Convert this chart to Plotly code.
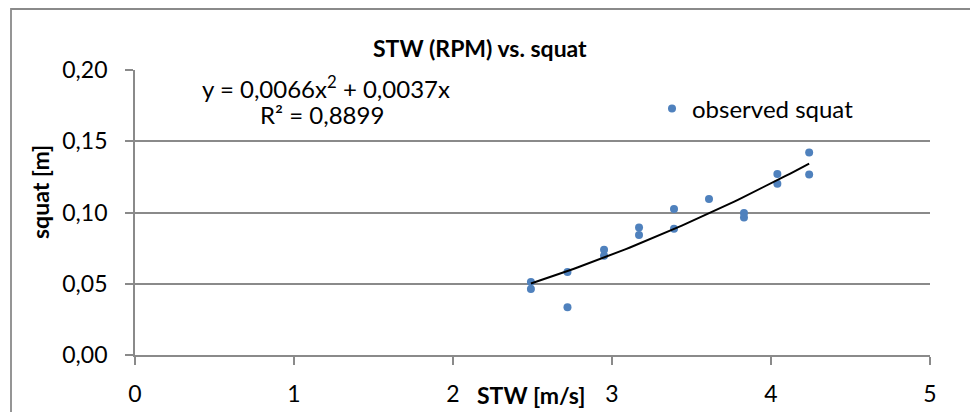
import numpy as np
import plotly.graph_objects as go

stw = [2.49, 2.49, 2.72, 2.72, 2.95, 2.95, 3.17, 3.17, 3.39, 3.39,
       3.61, 3.83, 3.83, 4.04, 4.04, 4.24, 4.24]
squat = [0.0513, 0.0464, 0.0583, 0.0335, 0.0739, 0.0697, 0.0895, 0.0842,
         0.1024, 0.0886, 0.1094, 0.0996, 0.0965, 0.1271, 0.1201, 0.1421, 0.1267]

# Trendline coefficients shown on the chart: y = a*x^2 + b*x
coef_a = 0.0066
coef_b = 0.0037
trend_x = np.linspace(min(stw), max(stw), 60)
trend_y = coef_a * trend_x**2 + coef_b * trend_x

x_ticks = [0, 1, 2, 3, 4, 5]
y_ticks = [0.00, 0.05, 0.10, 0.15, 0.20]

FONT = "Lato"
GRID = "#8a8a8a"

fig = go.Figure()
fig.add_trace(go.Scatter(
    x=stw, y=squat, mode="markers", name="observed squat",
    marker=dict(color="#4F81BD", size=8), showlegend=True))
fig.add_trace(go.Scatter(
    x=trend_x, y=trend_y, mode="lines", showlegend=False,
    line=dict(color="black", width=2)))

L, R, T, B = 135, 40, 70, 57
W, H = 970, 412
pw, ph = W - L - R, H - T - B

def px(xp):
    return (xp - L) / pw

def py(yp):
    return (H - B - yp) / ph

fig.update_layout(
    width=W, height=H,
    margin=dict(l=L, r=R, t=T, b=B),
    paper_bgcolor="white", plot_bgcolor="white",
    separators=", ",
    font=dict(family=FONT, size=22, color="black"),
    showlegend=True,
    legend=dict(x=px(652), y=py(109), xanchor="left", yanchor="middle",
                bgcolor="rgba(0,0,0,0)", font=dict(size=24, family=FONT)),
    xaxis=dict(range=[0, 5], tickvals=x_ticks, showgrid=False, zeroline=False,
               showline=True, linecolor=GRID, linewidth=1.8, automargin=False,
               ticks="outside", ticklen=8, tickcolor=GRID, tickwidth=1.8,
               tickfont=dict(size=23), ticklabelstandoff=9),
    yaxis=dict(range=[0, 0.2], tickvals=y_ticks, tickformat=".2f",
               automargin=False,
               showgrid=True, gridcolor=GRID, gridwidth=1.8, zeroline=False,
               showline=True, linecolor=GRID, linewidth=1.8,
               ticks="outside", ticklen=8, tickcolor=GRID, tickwidth=1.8,
               tickfont=dict(size=23), ticklabelstandoff=13),
    shapes=[dict(type="rect", xref="paper", yref="paper",
                 x0=px(11), x1=px(990), y0=py(430), y1=py(9),
                 line=dict(color=GRID, width=1.8), fillcolor="rgba(0,0,0,0)",
                 layer="below")],
    annotations=[
        dict(text="<b>STW (RPM) vs. squat</b>", xref="paper", yref="paper",
             x=px(480), y=py(48), showarrow=False, font=dict(size=23),
             xanchor="center", yanchor="middle"),
        dict(text="<b>squat [m]</b>", xref="paper", yref="paper",
             x=px(40), y=py(192), showarrow=False, textangle=-90,
             font=dict(size=23), xanchor="center", yanchor="middle"),
        dict(text="<b>STW [m/s]</b>", xref="paper", yref="paper",
             x=px(531), y=py(395), showarrow=False,
             font=dict(size=23), xanchor="center", yanchor="middle"),
        dict(text="y = 0,0066x<sup>2</sup> + 0,0037x", xref="paper", yref="paper",
             x=px(326), y=py(87), showarrow=False,
             font=dict(size=24), xanchor="center", yanchor="middle"),
        dict(text="R² = 0,8899", xref="paper", yref="paper",
             x=px(322), y=py(114), showarrow=False,
             font=dict(size=24), xanchor="center", yanchor="middle"),
    ],
)

fig.write_html("out.html")
